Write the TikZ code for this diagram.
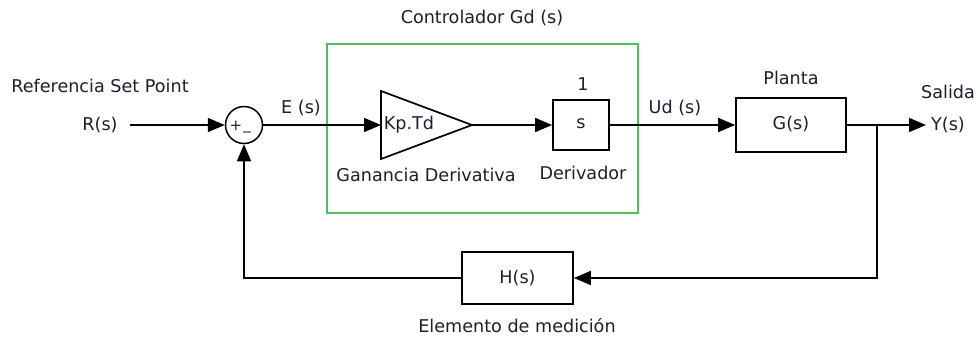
\documentclass[tikz,border=0pt]{standalone}
\usepackage{fontspec}
\setmainfont{DejaVu Sans}
\usetikzlibrary{arrows.meta}
\definecolor{txt}{RGB}{30,30,45}
\definecolor{grn}{RGB}{80,190,90}
\tikzset{
  lbl/.style={text=txt,font=\fontsize{17.6}{19}\selectfont,inner sep=0pt},
  blk/.style={draw,line width=1.7pt,inner sep=0pt},
  wire/.style={line width=1.7pt},
  arr/.style={wire,-{Triangle[length=17pt,width=14pt]}}
}
\begin{document}
\begin{tikzpicture}[x=1pt,y=-1pt]
\useasboundingbox (0,0) rectangle (978,338);
% green controller frame
\draw[grn,line width=1.6pt] (327,44) rectangle (638,213);
\node[lbl] (ctl) at (482,18) {Controlador Gd (s)};
% labels
\node[lbl] (ref) at (100,86) {Referencia Set Point};
\node[lbl] (rs) at (100,125) {R(s)};
\coordinate (rstart) at (130,125);
% sum junction
\node[draw,circle,line width=1.5pt,minimum size=37pt,inner sep=0pt] (sum) at (244,125) {};
\node[lbl,font=\fontsize{15}{15}\selectfont,anchor=base] (plus) at (236,130) {+};
\node[lbl,font=\fontsize{15}{15}\selectfont,anchor=base] (minus) at (247,129) {\_};
\node[lbl] (es) at (301,108) {E (s)};
% gain triangle
\coordinate (gin) at (381,125);
\coordinate (gout) at (472,125);
\draw[line width=1.7pt,line join=miter] (381,91) -- (472,125) -- (381,159) -- cycle;
\node[lbl] (kp) at (409,125) {Kp.Td};
\node[lbl] (gan) at (426,175) {Ganancia Derivativa};
% derivador
\node[blk,minimum width=56pt,minimum height=50pt] (der) at (581,125) {};
\node[lbl] (s) at (581,124) {s};
\node[lbl] (one) at (583,84) {1};
\node[lbl] (derl) at (583,173) {Derivador};
\node[lbl] (ud) at (675,108) {Ud (s)};
% plant
\node[blk,minimum width=110pt,minimum height=54pt] (g) at (791,125) {};
\node[lbl] (gs) at (791,124) {G(s)};
\node[lbl] (pl) at (791,78) {Planta};
\coordinate (br) at (877,125);
\coordinate (yend) at (926,125);
\node[lbl] (sal) at (948,92) {Salida};
\node[lbl] (ys) at (948,125) {Y(s)};
% feedback
\node[blk,minimum width=111pt,minimum height=52pt] (h) at (517.5,278) {};
\node[lbl] (hs) at (517.5,278) {H(s)};
\node[lbl] (med) at (517,326) {Elemento de medición};
\coordinate (fbr) at (877,278);
\coordinate (fbl) at (244,278);
% wires
\draw[arr] (rstart) -- (sum.west);
\draw[arr] (sum.east) -- (gin);
\draw[arr] (gout) -- (der.west);
\draw[arr] (der.east) -- (g.west);
\draw[arr] (g.east) -- (br) -- (yend);
\draw[arr] (br) -- (fbr) -- (h.east);
\draw[arr] (h.west) -- (fbl) -- (sum.south);
\end{tikzpicture}
\end{document}
